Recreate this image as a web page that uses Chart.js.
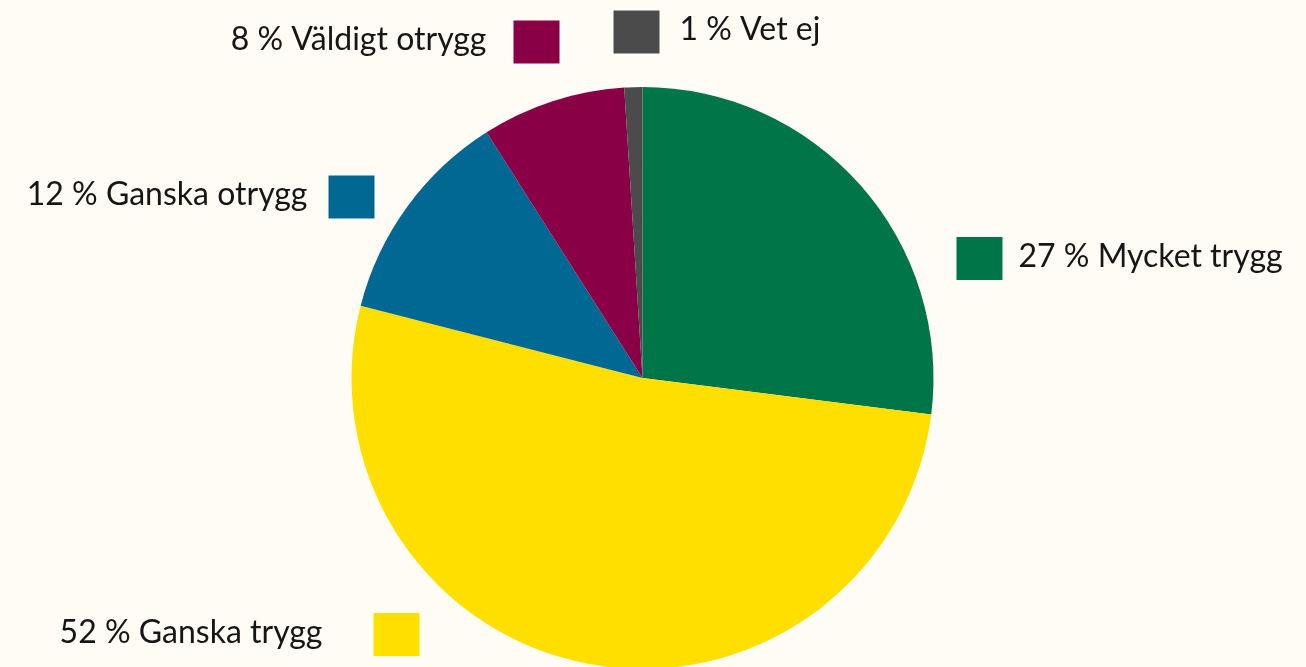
<!DOCTYPE html>
<html>
<head>
<meta charset="utf-8">
<script src="https://cdn.jsdelivr.net/npm/chart.js@4/dist/chart.umd.min.js"></script>
<style>
  html, body { margin: 0; padding: 0; background: #FFFCF5; overflow: hidden; }
  #c { display: block; }
</style>
</head>
<body>
<canvas id="c" width="1306" height="667"></canvas>
<script>
// ---- data ----
const categories = ["Mycket trygg", "Ganska trygg", "Ganska otrygg", "Väldigt otrygg", "Vet ej"];
const percentValues = [27, 52, 12, 8, 1];
const sliceColors = ["#007648", "#FFDF00", "#006892", "#890047", "#4B4B4B"];

// label placement (relative to pie centre): box left, box centre y, text side, gap
const labelLayout = [
  { bx: 314, cy: -119.5, side: "right", gap: 16 },
  { bx: -269, cy: 256.5, side: "left", gap: 51 },
  { bx: -314, cy: -181, side: "left", gap: 21 },
  { bx: -129, cy: -336, side: "left", gap: 27 },
  { bx: -29, cy: -346, side: "right", gap: 20 }
];

const labelPlugin = {
  id: "sliceLabels",
  afterDraw(chart) {
    const ctx = chart.ctx;
    const meta = chart.getDatasetMeta(0);
    const arc = meta.data[0];
    const cx = arc.x, cy = arc.y;
    const data = chart.data.datasets[0].data;
    const colors = chart.data.datasets[0].backgroundColor;
    const bw = 46, bh = 43;
    ctx.save();
    ctx.font = '32px Lato';
    ctx.textBaseline = "alphabetic";
    labelLayout.forEach((L, i) => {
      const bx = cx + L.bx;
      const bcy = cy + L.cy;
      ctx.fillStyle = colors[i];
      ctx.fillRect(bx, bcy - bh / 2, bw, bh);
      const txt = data[i] + " % " + chart.data.labels[i];
      ctx.fillStyle = "#161616";
      if (L.side === "right") {
        ctx.textAlign = "left";
        ctx.fillText(txt, bx + bw + L.gap, bcy + 8);
      } else {
        ctx.textAlign = "right";
        ctx.fillText(txt, bx - L.gap, bcy + 8);
      }
    });
    ctx.restore();
  }
};

new Chart(document.getElementById("c"), {
  type: "pie",
  data: {
    labels: categories,
    datasets: [{
      data: percentValues,
      backgroundColor: sliceColors,
      borderWidth: 0,
      radius: 291
    }]
  },
  options: {
    responsive: false,
    animation: false,
    layout: { padding: { top: 89, bottom: 0, left: 0, right: 21 } },
    plugins: { legend: { display: false }, tooltip: { enabled: false } }
  },
  plugins: [labelPlugin]
});
</script>
</body>
</html>
